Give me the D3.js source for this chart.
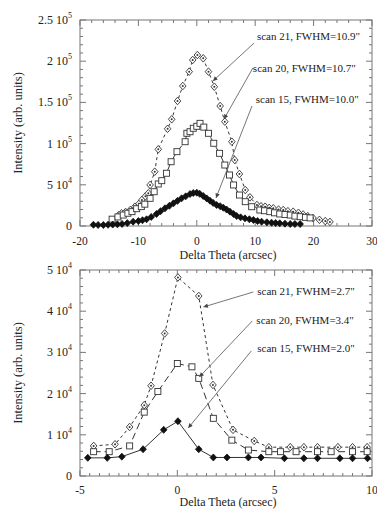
<!DOCTYPE html>
<html><head><meta charset="utf-8">
<script src="https://cdn.jsdelivr.net/npm/d3@7"></script>
<style>body{margin:0;background:#fff}svg{display:block}text{font-family:"Liberation Serif","DejaVu Serif",serif;fill:#222}</style>
</head><body>
<svg id="c" width="377" height="510"></svg>
<script>
// ---- Top panel data (Delta Theta arcsec, intensity arb. units)
const topScan21X = [-13.4,-12.9,-12.2,-11.4,-10.6,-9.9,-9.4,-8.8,-8.3,-8.0,-7.2,-6.6,-5.0,-4.3,-3.3,-2.4,-1.3,-0.7,0.1,1.1,2.0,3.0,4.0,4.8,6.0,6.5,7.3,8.3,9.1,10.3,11.0,11.7,12.4,13.1,14.0,14.8,15.6,16.5,17.4,18.2,19.0,19.9,21.0,22.0,22.8];
const topScan21Y = [13000,15400,17000,19400,23400,27000,31600,36000,39700,49800,65900,93100,118000,129500,151700,169900,187300,201500,207500,203500,187300,169000,145600,126600,102300,80100,63100,43700,34800,25500,24000,23400,22000,21500,20000,19400,18000,17400,16000,14000,12000,9700,7500,6000,5000];
const topScan20X = [-14.5,-13.5,-12.6,-11.8,-11.1,-10.3,-9.5,-8.9,-8.0,-7.3,-6.6,-6.0,-5.2,-4.4,-3.4,-2.0,-1.7,-1.16,-0.6,0.0,0.55,1.2,2.0,2.9,3.9,4.8,5.6,6.3,7.3,8.3,9.4,10.8,11.6,12.5,13.3,14.2,15.1,16.0,16.8,17.7,18.6,19.4];
const topScan20Y = [8300,11000,13300,15500,17400,21000,23500,26500,33600,41600,51000,55000,64000,78000,90200,102300,112500,114400,118600,121000,124600,120000,112500,100400,88200,74000,61900,49800,37600,29500,23400,19400,18500,17400,16000,14600,14000,13300,12000,11300,10500,9800];
const topScan15X = [-17.7,-16.9,-16.0,-15.2,-14.4,-13.6,-12.8,-11.9,-10.9,-10.0,-9.3,-8.6,-7.8,-6.9,-6.2,-5.45,-4.7,-4.0,-3.3,-2.6,-1.9,-1.16,-0.6,0.0,0.5,1.1,1.7,2.26,2.8,3.4,4.0,4.54,5.1,5.68,6.3,6.83,7.5,8.25,9.0,9.7,10.4,11.1,12.0,12.8,13.5,14.2,15.1,16.0,16.8,17.7];
const topScan15Y = [1500,1300,1200,1500,1800,2000,2500,3500,5200,6000,7000,8100,11000,14600,18000,21500,24500,27500,30500,33600,36000,38800,40000,40400,39000,36400,33500,30700,28000,25500,24000,22200,20000,17400,14500,12100,10500,9300,8200,7300,6000,5200,4500,4000,3600,3300,2800,2400,2400,2400];

// ---- Bottom panel data
const botScan21X = [-4.3,-3.2,-2.45,-1.7,-1.35,-0.65,0.03,1.1,1.83,2.86,3.95,4.7,5.8,6.5,7.2,8.25,9.0,9.75];
const botScan21Y = [7300,7700,11900,17200,21900,34600,48200,43700,22100,11200,8500,7000,7000,7000,7000,7000,7000,7000];
const botScan20X = [-4.3,-3.5,-2.45,-1.7,-1.0,0.0,0.75,1.1,1.85,2.8,3.65,4.7,5.3,6.1,7.2,7.9,9.0,9.75];
const botScan20Y = [5900,5900,7300,15500,20500,27300,26500,23700,14000,8700,6300,5900,5900,5900,5900,5900,5900,5900];
const botScan15X = [-4.6,-3.6,-2.85,-1.76,-0.7,0.03,1.1,1.85,2.55,3.65,4.3,5.5,6.5,7.2,8.35,9.0,9.77];
const botScan15Y = [4400,4400,4700,6500,11200,13300,6500,4500,4500,4500,4500,4300,4300,4300,4300,4300,4300];

// ---- Tick labels
const topXTicks = [-20,-10,0,10,20,30];
const topYTicks = [0,50000,100000,150000,200000,250000];
const topYLabels = [["0",""],["5 10","4"],["1 10","5"],["1.5 10","5"],["2 10","5"],["2.5 10","5"]];
const botXTicks = [-5,0,5,10];
const botYTicks = [0,10000,20000,30000,40000,50000];
const botYLabels = [["0",""],["1 10","4"],["2 10","4"],["3 10","4"],["4 10","4"],["5 10","4"]];

// ---- Annotations: label, text position (data), arrow start (data), arrow tip (data)
const topNotes = [
  {t:"scan 21, FWHM=10.9\"", tx:10.3, ty:225700, sx:9.8, sy:222000, ex:2.77, ey:176000},
  {t:"scan 20, FWHM=10.7\"", tx:9.6, ty:186900, sx:9.6, sy:191700, ex:4.66, ey:129900},
  {t:"scan 15, FWHM=10.0\"", tx:10.1, ty:149300, sx:9.45, sy:145600, ex:3.29, ey:34000}
];
const botNotes = [
  {t:"scan 21, FWHM=2.7\"", tx:4.11, ty:43930, sx:3.9, sy:44660, ex:1.34, ey:41020},
  {t:"scan 20, FWHM=3.4\"", tx:4.06, ty:36890, sx:3.85, sy:37620, ex:1.13, ey:24030},
  {t:"scan 15, FWHM=2.0\"", tx:4.11, ty:30100, sx:3.8, sy:30340, ex:0.56, ey:11650}
];

const svg = d3.select("#c");
const defs = svg.append("defs");
defs.append("marker").attr("id","ah").attr("viewBox","0 0 10 10").attr("refX",10).attr("refY",5)
  .attr("markerWidth",7).attr("markerHeight",5).attr("orient","auto-start-reverse")
  .append("path").attr("d","M0,0L10,5L0,10z").attr("fill","#444");

function zip(xs, ys){ return xs.map((x,i)=>({x, y:ys[i]})); }

function panel(cfg){
  const x = d3.scaleLinear().domain(cfg.xd).range([80,372]);
  const y = d3.scaleLinear().domain(cfg.yd).range(cfg.yr);
  const g = svg.append("g");
  const [y0,y1] = cfg.yr;
  g.append("rect").attr("x",80).attr("y",y1).attr("width",292).attr("height",y0-y1)
    .attr("fill","none").attr("stroke","#777").attr("stroke-width",1);
  const xMinor = d3.range(cfg.xd[0], cfg.xd[1]+1e-9, cfg.xMinor);
  const yMinor = d3.range(cfg.yd[0], cfg.yd[1]+1e-9, cfg.yMinor);
  const isMajor = (v, step) => Math.abs(v/step - Math.round(v/step)) < 1e-6;
  xMinor.forEach(v=>{
    const L = isMajor(v,cfg.xMajor)?6:3;
    g.append("line").attr("x1",x(v)).attr("x2",x(v)).attr("y1",y0).attr("y2",y0-L).attr("stroke","#777");
    g.append("line").attr("x1",x(v)).attr("x2",x(v)).attr("y1",y1).attr("y2",y1+L).attr("stroke","#777");
  });
  yMinor.forEach(v=>{
    const L = isMajor(v,cfg.yMajor)?6:3;
    g.append("line").attr("y1",y(v)).attr("y2",y(v)).attr("x1",80).attr("x2",80+L).attr("stroke","#777");
    g.append("line").attr("y1",y(v)).attr("y2",y(v)).attr("x1",372).attr("x2",372-L).attr("stroke","#777");
  });
  cfg.xTicks.forEach(v=>{
    g.append("text").attr("x",x(v)).attr("y",y0+cfg.tickDy).attr("text-anchor","middle").attr("font-size",11.5).text(v);
  });
  cfg.yTicks.forEach((v,i)=>{
    const [base,sup] = cfg.yLabels[i];
    const t = g.append("text").attr("x",72).attr("y",y(v)+4).attr("text-anchor","end").attr("font-size",12);
    t.append("tspan").text(base);
    if(sup) t.append("tspan").attr("font-size",8).attr("dy",-6).text(sup);
  });
  g.append("text").attr("x",228).attr("y",y0+cfg.titleDy).attr("text-anchor","middle").attr("font-size",12).text("Delta Theta (arcsec)");
  g.append("text").attr("transform",`translate(22,${(y0+y1)/2}) rotate(-90)`).attr("text-anchor","middle").attr("font-size",12.5).text("Intensity (arb. units)");

  const line = d3.line().x(d=>x(d.x)).y(d=>y(d.y));
  const series = [
    {d:zip(cfg.s21x,cfg.s21y), dash:"3,3", m:"diamondOpen"},
    {d:zip(cfg.s20x,cfg.s20y), dash:"7,4", m:"square"},
    {d:zip(cfg.s15x,cfg.s15y), dash:null, m:"diamondFilled"}
  ];
  series.forEach(s=>{
    g.append("path").datum(s.d).attr("d",line).attr("fill","none").attr("stroke","#333")
      .attr("stroke-width",1).attr("stroke-dasharray",s.dash);
  });
  series.forEach(s=>{
    const mg = g.append("g");
    s.d.forEach(p=>{
      const px=x(p.x), py=y(p.y);
      if(s.m==="square"){
        mg.append("rect").attr("x",px-3).attr("y",py-3).attr("width",6).attr("height",6)
          .attr("fill","#fff").attr("stroke","#333").attr("stroke-width",0.9);
      } else if(s.m==="diamondOpen"){
        mg.append("path").attr("d",`M${px},${py-3.8}L${px+3.3},${py}L${px},${py+3.8}L${px-3.3},${py}Z`)
          .attr("fill","#fff").attr("stroke","#333").attr("stroke-width",0.9);
        mg.append("circle").attr("cx",px).attr("cy",py).attr("r",1).attr("fill","#333");
      } else {
        mg.append("path").attr("d",`M${px},${py-3.5}L${px+3.3},${py}L${px},${py+3.5}L${px-3.3},${py}Z`)
          .attr("fill","#111").attr("stroke","#111").attr("stroke-width",0.8);
      }
    });
  });
  cfg.notes.forEach(n=>{
    g.append("line").attr("x1",x(n.sx)).attr("y1",y(n.sy)).attr("x2",x(n.ex)).attr("y2",y(n.ey))
      .attr("stroke","#666").attr("stroke-width",0.9).attr("marker-end","url(#ah)");
    g.append("text").attr("x",x(n.tx)).attr("y",y(n.ty)).attr("font-size",11).text(n.t);
  });
}

panel({xd:[-20,30], yd:[0,250000], yr:[226,20], xMinor:2, xMajor:10, yMinor:10000, yMajor:50000,
  xTicks:topXTicks, yTicks:topYTicks, yLabels:topYLabels, tickDy:19, titleDy:33,
  s21x:topScan21X, s21y:topScan21Y, s20x:topScan20X, s20y:topScan20Y, s15x:topScan15X, s15y:topScan15Y, notes:topNotes});
panel({xd:[-5,10], yd:[0,50000], yr:[476,270], xMinor:0.5, xMajor:5, yMinor:2000, yMajor:10000,
  xTicks:botXTicks, yTicks:botYTicks, yLabels:botYLabels, tickDy:18, titleDy:30,
  s21x:botScan21X, s21y:botScan21Y, s20x:botScan20X, s20y:botScan20Y, s15x:botScan15X, s15y:botScan15Y, notes:botNotes});
</script>
</body></html>
